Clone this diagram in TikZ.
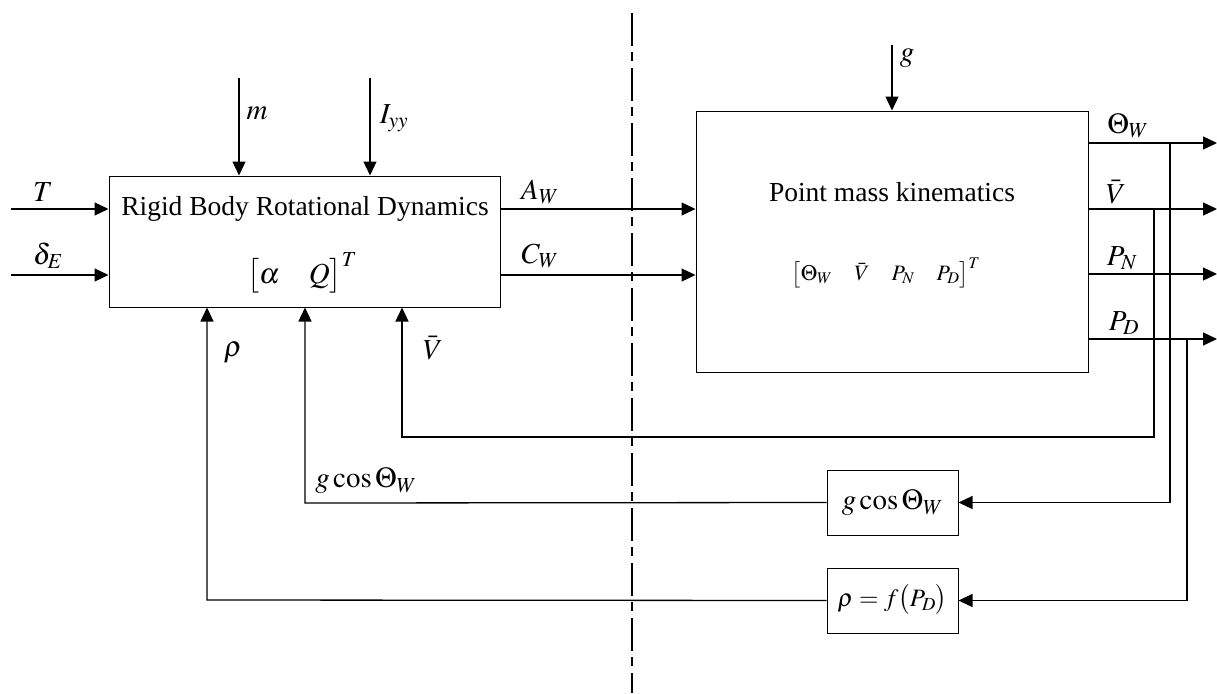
\documentclass[tikz,border=0pt]{standalone}
\usepackage{mathptmx}
\usepackage{fontspec}
\setmainfont{Liberation Serif}
\usetikzlibrary{arrows.meta}
\tikzset{
  box/.style={draw, line width=1pt, inner sep=0pt},
  arr/.style={line width=1.3pt, -{Triangle[length=14pt,width=13pt]}},
  ln/.style={line width=1.3pt},
  lbl/.style={inner sep=0pt, font=\fontsize{29}{33}\selectfont},
  ttl/.style={inner sep=0pt, font=\fontsize{27.5}{32}\selectfont},
  sml/.style={inner sep=0pt, font=\fontsize{22}{26}\selectfont},
  inbox/.style={inner sep=0pt, font=\fontsize{25}{29}\selectfont},
  dashdot/.style={line width=1.1pt, dash pattern=on 33pt off 6pt on 9pt off 7pt}
}
\begin{document}
\begin{tikzpicture}[x=1pt,y=-1pt]
\useasboundingbox (0,0) rectangle (1217,693);

% boxes
\node[box, minimum width=391pt, minimum height=131pt] (rb) at (304.5,241.5) {};
\node[box, minimum width=392pt, minimum height=261pt] (pm) at (892,241.5) {};
\node[box, minimum width=131pt, minimum height=65pt] (gc) at (892.5,502.5) {};
\node[box, minimum width=131pt, minimum height=65pt] (rf) at (892.5,600.5) {};

% box texts
\node[ttl] (rbt) at (305,209) {Rigid Body Rotational Dynamics};
\node[lbl] (rbm) at (302,273) {$\bigl[\alpha\quad Q\bigr]^{T}$};
\node[ttl] (pmt) at (892,192) {Point mass kinematics};
\node[sml] (pmm) at (886,273) {$\bigl[\Theta_W\quad \bar{V}\quad P_N\quad P_D\bigr]^{T}$};
\node[lbl] (gct) at (892.5,503) {$g\cos\Theta_W$};
\node[inbox] (rft) at (892.5,600) {$\rho = f\bigl(P_D\bigr)$};

% dash-dot separator
\coordinate (dtop) at (632,13);
\coordinate (dbot) at (632,693);
\draw[dashdot] (dtop) -- (dbot);

% inputs to rigid body
\coordinate (tin) at (11,209);
\coordinate (din) at (11,275);
\draw[arr] (tin) -- (tin -| rb.west);
\draw[arr] (din) -- (din -| rb.west);
\coordinate (min) at (239,78);
\coordinate (iin) at (370,78);
\draw[arr] (min) -- (min |- rb.north);
\draw[arr] (iin) -- (iin |- rb.north);

% rigid body -> point mass
\coordinate (aw) at (600,209);
\coordinate (cw) at (600,275);
\draw[arr] (rb.east |- aw) -- (pm.west |- aw);
\draw[arr] (rb.east |- cw) -- (pm.west |- cw);

% g input
\coordinate (gin) at (892,45);
\draw[arr] (gin) -- (pm.north);

% outputs
\coordinate (oth) at (1217,143);
\coordinate (ov) at (1217,209);
\coordinate (opn) at (1217,274);
\coordinate (opd) at (1217,339);
\draw[arr] (pm.east |- oth) -- (oth);
\draw[arr] (pm.east |- ov) -- (ov);
\draw[arr] (pm.east |- opn) -- (opn);
\draw[arr] (pm.east |- opd) -- (opd);

% feedback V
\coordinate (jv) at (1154,209);
\coordinate (vb) at (1154,437);
\coordinate (vl) at (402,437);
\draw[arr] (jv) -- (vb) -- (vl) -- (vl |- rb.south);

% feedback g cos
\coordinate (jg) at (1170,143);
\draw[arr] (jg) -- (jg |- gc.east) -- (gc.east);
\coordinate (gl) at (305,503);
\draw[arr] (gc.west) -- (gl) -- (gl |- rb.south);

% feedback rho
\coordinate (jr) at (1187,339);
\draw[arr] (jr) -- (jr |- rf.east) -- (rf.east);
\coordinate (rl) at (207,600);
\draw[arr] (rf.west) -- (rl) -- (rl |- rb.south);

% labels
\node[lbl] (lT) at (43,192) {$T$};
\node[lbl] (lD) at (48,256) {$\delta_E$};
\node[lbl] (lm) at (257,113) {$m$};
\node[lbl] (lI) at (394,118) {$I_{yy}$};
\node[lbl] (lrho) at (233,353) {$\rho$};
\node[lbl] (lV) at (433,348) {$\bar{V}$};
\node[lbl] (lgc) at (366,481) {$g\cos\Theta_W$};
\node[lbl] (lA) at (540,192) {$A_W$};
\node[lbl] (lC) at (540,256) {$C_W$};
\node[lbl] (lg) at (907,58) {$g$};
\node[lbl] (lTh) at (1128,126) {$\Theta_W$};
\node[lbl] (lV2) at (1116,192) {$\bar{V}$};
\node[lbl] (lPN) at (1122,258) {$P_N$};
\node[lbl] (lPD) at (1124,323) {$P_D$};
\end{tikzpicture}
\end{document}
